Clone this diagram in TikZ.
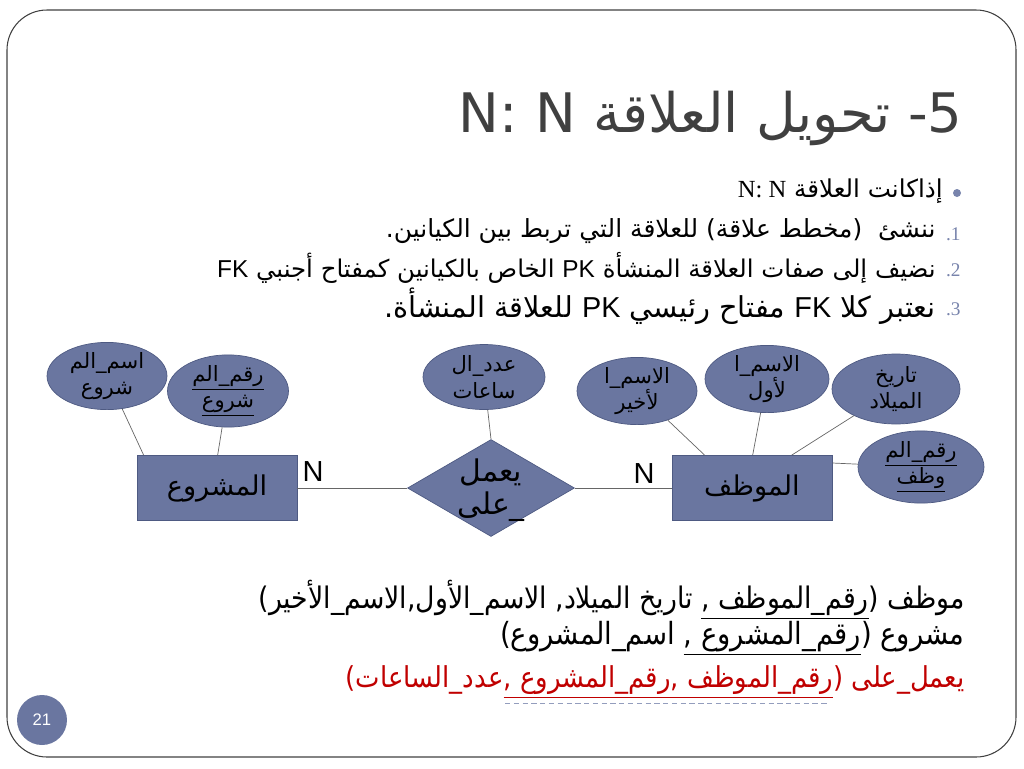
\documentclass[tikz,border=0pt]{standalone}
\usepackage{fontspec}
\setmainfont{Liberation Sans}
\newfontfamily\arabicfont[Script=Arabic]{DejaVu Sans}
\newfontfamily\schemafont[Script=Arabic,FakeStretch=0.9]{DejaVu Sans}
\newfontfamily\seriffont{Liberation Serif}
\TeXXeTstate=1
\usetikzlibrary{shapes.geometric, positioning}

\definecolor{erblue}{RGB}{106,118,160}
\definecolor{erline}{RGB}{78,90,130}
\definecolor{numblue}{RGB}{120,132,172}
\definecolor{titlegray}{RGB}{64,64,64}
\definecolor{keyred}{RGB}{192,0,0}

\tikzset{
  entity/.style={rectangle, draw=erline, fill=erblue, minimum width=3.2cm, minimum height=1.3cm,
    font=\arabicfont\fontsize{15.5}{18}\selectfont},
  attr/.style={ellipse, draw=erline, fill=erblue, inner sep=0pt, align=center,
    font=\arabicfont\fontsize{12}{15}\selectfont},
  rel/.style={diamond, draw=erline, fill=erblue, inner sep=0pt, minimum width=3.34cm, minimum height=1.94cm},
  link/.style={draw=black!60, thin},
  card/.style={font=\fontsize{16.5}{18}\selectfont},
  item/.style={anchor=east, inner sep=0pt},
  num/.style={anchor=east, inner sep=0pt, text=numblue, font=\seriffont\fontsize{11}{13}\selectfont}
}

\begin{document}
\begin{tikzpicture}[x=0.02cm, y=-0.02cm]
  \useasboundingbox (0,0) rectangle (1024,768);
  % Rahmen der Folie
  \draw[black!75, line width=0.6pt, rounded corners=0.8cm] (7,10) rectangle (1016,757);

  % Titel
  \node[item, text=titlegray, font=\arabicfont\fontsize{31}{36}\selectfont] (title) at (963,118)
    {\beginR 5- تحويل العلاقة \beginL N: N\endL\endR};

  % Aufzaehlung
  \fill[numblue] (957,193) circle (0.08cm);
  \node[item, font=\arabicfont\fontsize{14}{16}\selectfont] (cond) at (943,191)
    {\beginR إذاكانت العلاقة {\seriffont\beginL N: N\endL}\endR};
  \node[num] (n1) at (961,234) {.1};
  \node[num] (n2) at (961,270) {.2};
  \node[num] (n3) at (961,309) {.3};
  \node[item, font=\arabicfont\fontsize{14.2}{16}\selectfont] (step1) at (936,231)
    {\beginR ننشئ \ (مخطط علاقة) للعلاقة التي تربط بين الكيانين.\endR};
  \node[item, font=\arabicfont\fontsize{13.9}{16}\selectfont] (step2) at (936,268)
    {\beginR نضيف إلى صفات العلاقة المنشأة {\rmfamily PK} الخاص بالكيانين كمفتاح أجنبي {\rmfamily FK}\endR};
  \node[item, font=\arabicfont\fontsize{16.4}{18}\selectfont] (step3) at (936,306)
    {\beginR نعتبر كلا {\rmfamily FK} مفتاح رئيسي {\rmfamily PK} للعلاقة المنشأة.\endR};

  % ER-Diagramm
  \node[entity] (proj) at (217,488) {المشروع};
  \node[entity] (emp) at (752,488) {الموظف};
  \node[rel] (works) at (491,488) {};
  \node[font=\arabicfont\fontsize{17}{19}\selectfont, align=center] (workslbl) at (491,490) {يعمل\\\_على};

  \node[attr, minimum width=2.4cm, minimum height=1.24cm] (pname) at (107,376) {اسم\_الم\\شروع};
  \node[attr, minimum width=2.42cm, minimum height=1.32cm] (pnum) at (228,391)
    {\underline{رقم\_الم}\\\underline{شروع}};
  \node[attr, minimum width=2.44cm, minimum height=1.3cm] (hours) at (484,377) {عدد\_ال\\ساعات};
  \node[attr, minimum width=2.4cm, minimum height=1.3cm] (lname) at (637,391) {الاسم\_ا\\لأخير};
  \node[attr, minimum width=2.48cm, minimum height=1.32cm] (fname) at (767,379) {الاسم\_ا\\لأول};
  \node[attr, minimum width=2.56cm, minimum height=1.4cm] (bdate) at (896,389) {تاريخ\\الميلاد};
  \node[attr, minimum width=2.52cm, minimum height=1.4cm] (enum) at (921,467)
    {\underline{رقم\_الم}\\\underline{وظف}};

  \draw[link] (proj) -- (works) -- (emp);
  \draw[link] (pname) -- ([xshift=0.14cm]proj.north west);
  \draw[link] (pnum) -- ([xshift=1.62cm]proj.north west);
  \draw[link] (hours) -- (works.north);
  \draw[link] (lname) -- ([xshift=0.66cm]emp.north west);
  \draw[link] (fname) -- ([xshift=1.62cm]emp.north west);
  \draw[link] (bdate) -- ([xshift=2.4cm]emp.north west);
  \draw[link] (enum) -- ([yshift=0.5cm]emp.east);

  \node[card] (card1) at (313,472) {N};
  \node[card] (card2) at (644,474) {N};

  % Relationenschema
  \node[item, font=\schemafont\fontsize{16.9}{20}\selectfont] (remp) at (965,600)
    {\beginR موظف (\underline{\beginR رقم\_الموظف ,\endR} تاريخ الميلاد, الاسم\_الأول,الاسم\_الأخير)\endR};
  \node[item, font=\schemafont\fontsize{17.4}{20}\selectfont] (rproj) at (965,638)
    {\beginR مشروع (\underline{\beginR رقم\_المشروع ,\endR} اسم\_المشروع)\endR};
  \node[item, text=keyred, font=\schemafont\fontsize{16.4}{20}\selectfont] (rworks) at (965,682)
    {\beginR يعمل\_على (\underline{\beginR رقم\_الموظف ,رقم\_المشروع ,\endR}عدد\_الساعات)\endR};
  \draw[numblue!80, densely dashed, thin] (505,703) -- (830,703);

  % Seitenzahl
  \node[circle, fill=erblue, minimum size=1cm, inner sep=0pt, text=white,
    font=\fontsize{9.5}{11}\selectfont] (pagenum) at (42,720) {21};
\end{tikzpicture}
\end{document}
